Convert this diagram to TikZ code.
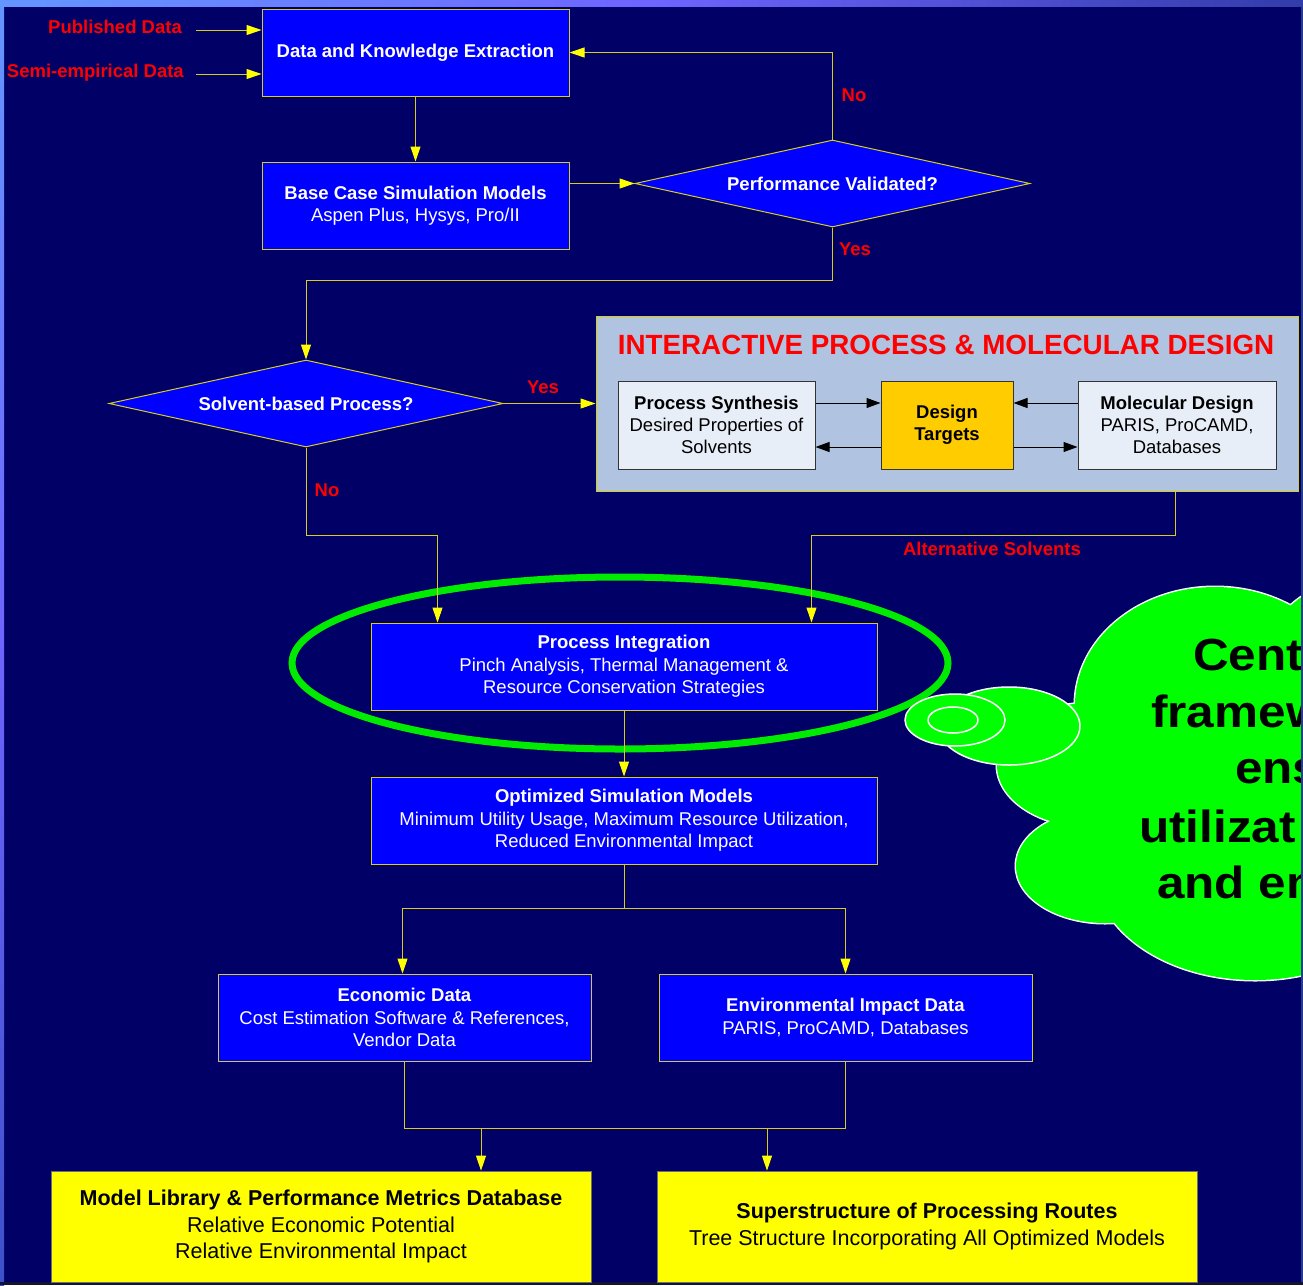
\documentclass[tikz,border=0pt]{standalone}
\usepackage{fontspec}
\setmainfont{Liberation Sans}
\newfontfamily\cloudfont[FakeStretch=1.1]{Liberation Sans}
\usetikzlibrary{shapes.geometric,arrows.meta,calc}
\definecolor{navy}{RGB}{0,0,102}
\definecolor{boxblue}{RGB}{0,0,255}
\definecolor{lineyel}{RGB}{215,205,30}
\definecolor{arryel}{RGB}{255,255,0}
\definecolor{redtxt}{RGB}{255,0,0}
\definecolor{ipmdfill}{RGB}{176,196,226}
\definecolor{innerfill}{RGB}{232,238,248}
\definecolor{dtfill}{RGB}{255,204,0}
\definecolor{cloudgreen}{RGB}{0,255,0}
\definecolor{ringgreen}{RGB}{0,235,0}
\definecolor{boxgray}{RGB}{110,110,110}
\definecolor{edgeA}{RGB}{100,150,255}
\definecolor{edgeB}{RGB}{110,100,255}
\definecolor{edgeC}{RGB}{50,60,170}
\definecolor{edgeD}{RGB}{60,80,200}
\definecolor{edgeBot}{RGB}{20,20,50}
\definecolor{edgeRight}{RGB}{40,60,140}
\begin{document}
\begin{tikzpicture}[x=1pt,y=-1pt,
  bluebox/.style={draw=lineyel, line width=1pt, fill=boxblue, text=white, align=center,
    font=\fontsize{18.5}{22.5}\selectfont, inner sep=0pt, minimum width=307pt, minimum height=87pt},
  decbox/.style={diamond, draw=lineyel, line width=1pt, fill=boxblue, text=white,
    font=\bfseries\fontsize{18.5}{22}\selectfont, shape aspect=4.54, minimum width=395pt,
    minimum height=87pt, inner sep=0pt},
  innerbox/.style={draw=black!80, line width=1pt, fill=innerfill, text=black, align=center,
    font=\fontsize{18.5}{22}\selectfont, inner sep=0pt, minimum height=88pt},
  yelbox/.style={draw=boxgray, line width=0.8pt, fill=arryel, text=black, align=center,
    font=\fontsize{21.5}{26.5}\selectfont, inner sep=0pt, minimum width=540pt, minimum height=111pt},
  conn/.style={draw=lineyel, line width=1pt},
  arr/.style={conn, -{Triangle[length=15pt,width=10pt,color=arryel]}},
  barr/.style={draw=black, line width=1pt, -{Triangle[length=14pt,width=10pt,color=black]}},
  lbl/.style={text=redtxt, font=\bfseries\fontsize{18.5}{22}\selectfont, inner sep=0pt},
  cloudtxt/.style={text=black, font=\cloudfont\bfseries\fontsize{45}{57}\selectfont, inner sep=0pt, anchor=base west}
]
\useasboundingbox (0,0) rectangle (1303,1285);
% background
\fill[navy] (0,0) rectangle (1303,1285);
\shade[left color=edgeA, right color=edgeC, middle color=edgeB] (0,0) rectangle (1303,6);
\shade[top color=edgeA, bottom color=edgeD, middle color=edgeB] (0,0) rectangle (4,1285);
\fill[edgeBot] (0,1282) rectangle (1303,1285);

% green ring
\draw[ringgreen, line width=7pt] (620,663) ellipse [x radius=328, y radius=86];

% labels at left
\node[lbl, anchor=east] (pub) at (182,27) {Published Data};
\node[lbl, anchor=east] (semi) at (184,73) {Semi-empirical Data};
\coordinate (p1) at (196,30);
\coordinate (p2) at (196,74);

% main boxes
\node[bluebox] (b1) at (415.5,52.5) {\textbf{Data and Knowledge Extraction}};
\node[bluebox] (b2) at (415.5,205.5) {\textbf{Base Case Simulation Models}\\Aspen Plus, Hysys, Pro/II};
\node[decbox] (d1) at (832.5,183.5) {Performance Validated?};
\node[decbox, minimum width=394pt] (d2) at (306,403.5) {Solvent-based Process?};

% IPMD
\node[draw=lineyel, line width=1pt, fill=ipmdfill, minimum width=702pt, minimum height=175pt, inner sep=0pt] (ipmd) at (947,403.5) {};
\node[text=redtxt, font=\bfseries\fontsize{27.8}{32}\selectfont, inner sep=0pt] (ipmdt) at (946,345) {INTERACTIVE PROCESS \& MOLECULAR DESIGN};
\node[innerbox, minimum width=197pt] (ps) at (716.5,425) {\textbf{Process Synthesis}\\Desired Properties of\\Solvents};
\node[innerbox, minimum width=132pt, fill=dtfill] (dt) at (947,425) {\textbf{Design}\\\textbf{Targets}};
\node[innerbox, minimum width=198pt] (md) at (1177,425) {\textbf{Molecular Design}\\PARIS, ProCAMD,\\Databases};

\node[bluebox, minimum width=506pt] (pi) at (624,666.5) {\textbf{Process Integration}\\Pinch Analysis, Thermal Management \&\\Resource Conservation Strategies};
\node[bluebox, minimum width=506pt] (osm) at (624,820.5) {\textbf{Optimized Simulation Models}\\Minimum Utility Usage, Maximum Resource Utilization,\\Reduced Environmental Impact};
\node[bluebox, minimum width=373pt] (econ) at (404.5,1017.5) {\textbf{Economic Data}\\Cost Estimation Software \& References,\\Vendor Data};
\node[bluebox, minimum width=373pt] (env) at (845.5,1017.5) {\textbf{Environmental Impact Data}\\PARIS, ProCAMD, Databases};
\node[yelbox] (ml) at (321,1226.5) {\textbf{Model Library \& Performance Metrics Database}\\Relative Economic Potential\\Relative Environmental Impact};
\node[yelbox] (ss) at (927,1226.5) {\textbf{Superstructure of Processing Routes}\\Tree Structure Incorporating All Optimized Models};

% connectors
\draw[arr] (p1) -- (p1 -| b1.west);
\draw[arr] (p2) -- (p2 -| b1.west);
\draw[arr] (b1.south) -- (b2.north);
\draw[arr] (d1.west -| b2.east) -- (d1.west);
\draw[arr] (d1.north) |- (b1.east);
\draw[arr] (d1.south) -- ++(0,53) -| (d2.north);
\draw[arr] (d2.east) -- (ipmd.west);
\draw[arr] (d2.south) -- ++(0,88) -| ([xshift=67pt]pi.north west);
\draw[arr] ([xshift=-2pt]ipmd.south -| md) -- ++(0,44) -| ([xshift=-66pt]pi.north east);
\draw[arr] (pi.south) -- (osm.north);
\draw[conn] (osm.south) -- ++(0,44) coordinate (split);
\draw[arr] (split) -| ([xshift=-2pt]econ.north);
\draw[arr] (split) -| (env.north);
\draw[conn] (econ.south) -- ++(0,67) -| (env.south);
\coordinate (j1) at (481,1128);
\coordinate (j2) at (767,1128);
\draw[arr] (j1) -- (j1 |- ml.north);
\draw[arr] (j2) -- (j2 |- ss.north);

\draw[barr] ([yshift=22pt]ps.east) -- ([yshift=22pt]dt.west);
\draw[barr] ([yshift=-22pt]dt.west) -- ([yshift=-22pt]ps.east);
\draw[barr] ([yshift=22pt]md.west) -- ([yshift=22pt]dt.east);
\draw[barr] ([yshift=-22pt]dt.east) -- ([yshift=-22pt]md.west);

% branch labels
\node[lbl] (no1) at (854,95) {No};
\node[lbl] (yes1) at (855,249) {Yes};
\node[lbl] (yes2) at (543,387) {Yes};
\node[lbl] (no2) at (327,490) {No};
\node[lbl] (alt) at (992,549) {Alternative Solvents};

% cloud callout
\begin{scope}
\clip (0,0) rectangle (1301,1285);
\begin{scope}[white, line width=3pt]
\draw (1215,705) ellipse [x radius=140, y radius=118];
\draw (1090,765) ellipse [x radius=93, y radius=62];
\draw (1105,866) ellipse [x radius=89, y radius=57];
\draw (1255,870) ellipse [x radius=160, y radius=110];
\draw (1372,690) ellipse [x radius=120, y radius=115];
\end{scope}
\begin{scope}[cloudgreen]
\fill (1215,705) ellipse [x radius=140, y radius=118];
\fill (1090,765) ellipse [x radius=93, y radius=62];
\fill (1105,866) ellipse [x radius=89, y radius=57];
\fill (1255,870) ellipse [x radius=160, y radius=110];
\fill (1372,690) ellipse [x radius=120, y radius=115];
\fill (1150,700) rectangle (1303,900);
\end{scope}
\draw[white, line width=1.5pt, fill=cloudgreen] (1009,726) ellipse [x radius=71, y radius=39];
\draw[white, line width=1.5pt, fill=cloudgreen] (955,720) ellipse [x radius=50, y radius=26];
\draw[white, line width=1.5pt, fill=cloudgreen] (953,720) ellipse [x radius=25, y radius=13];
\node[cloudtxt] (c1) at (1193,670) {Cent};
\node[cloudtxt] (c2) at (1151,727) {framew};
\node[cloudtxt] (c3) at (1235,783) {ens};
\node[cloudtxt] (c4) at (1139,842) {utilizat};
\node[cloudtxt] (c5) at (1157,898) {and en};
\end{scope}
\fill[edgeRight] (1301,6) rectangle (1303,1282);
\end{tikzpicture}
\end{document}
